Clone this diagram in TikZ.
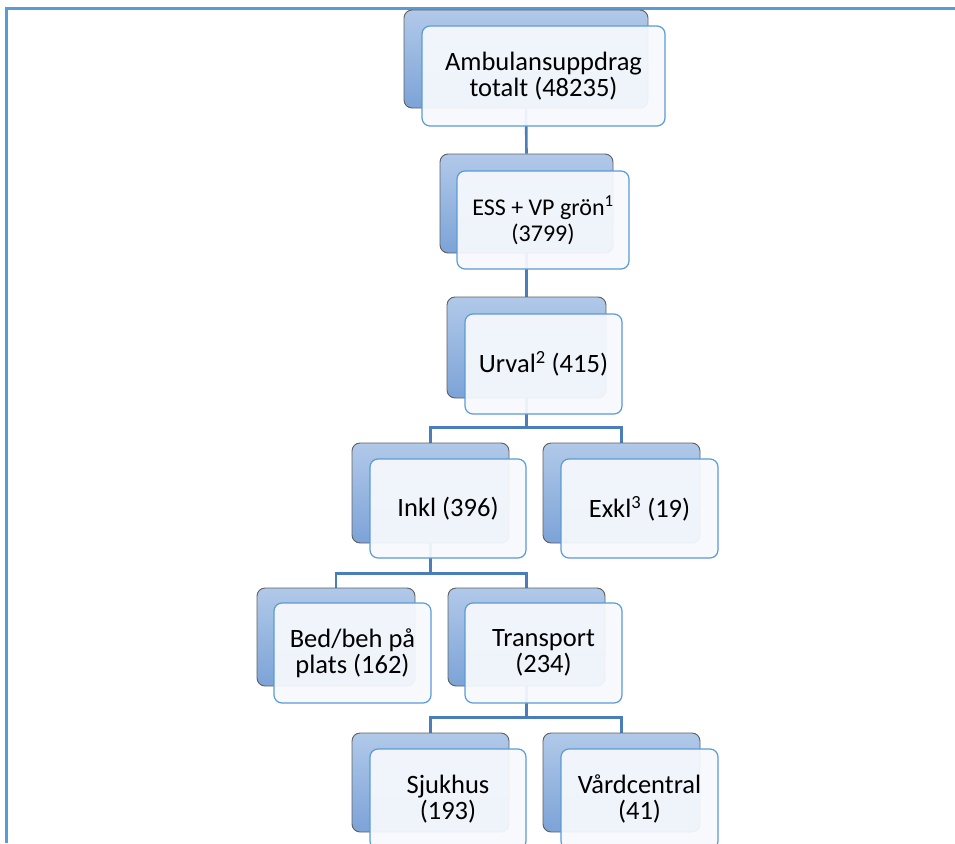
\documentclass[tikz,border=0pt]{standalone}
\usepackage{fontspec}
\setmainfont{Carlito}
\usetikzlibrary{backgrounds}
\definecolor{framec}{HTML}{5B9BD5}
\definecolor{linec}{HTML}{4A7EBB}
\definecolor{backtop}{HTML}{B1C9E9}
\definecolor{backbot}{HTML}{7CA3D7}
\definecolor{backdraw}{HTML}{5F5F5F}
\definecolor{frontfill}{HTML}{F6F9FD}
\definecolor{frontdraw}{HTML}{5B9BD5}
\begin{document}
\begin{tikzpicture}[x=1pt,y=-1pt,
 backbox/.style={rectangle, rounded corners=8pt, draw=backdraw, line width=0.9pt,
   top color=backtop, bottom color=backbot, minimum width=157pt, minimum height=99pt, inner sep=0pt},
 frontbox/.style={rectangle, rounded corners=8pt, draw=frontdraw, line width=1.2pt,
   fill=frontfill, fill opacity=0.94, text opacity=1, minimum width=157pt, minimum height=100pt,
   inner sep=0pt, align=center, font=\fontsize{26.5}{26}\selectfont},
 conn/.style={draw=linec, line width=2.6pt}]
\useasboundingbox (0,0) rectangle (955,843);
\draw[framec, line width=2.3pt] (6.5,843) -- (6.5,8.5) -- (955,8.5);

% back boxes
\node[backbox, minimum width=244pt, minimum height=98pt] (b1) at (526,59) {};
\node[backbox, minimum width=173pt] (b2) at (526.5,203.5) {};
\node[backbox, minimum width=159pt, minimum height=101pt] (b3) at (526.5,347.5) {};
\node[backbox, minimum height=100pt] (b4) at (430.5,493) {};
\node[backbox, minimum height=100pt] (b5) at (621.5,493) {};
\node[backbox, minimum width=158pt, minimum height=98pt] (b6) at (336,637) {};
\node[backbox, minimum height=98pt] (b7) at (526.5,637) {};
\node[backbox] (b8) at (430.5,782.5) {};
\node[backbox] (b9) at (621.5,782.5) {};

% connectors
\begin{pgfonlayer}{background}
\coordinate (j3) at ([yshift=-29pt]b3.south);
\coordinate (j4) at ([yshift=-30pt]b4.south);
\coordinate (j7) at ([yshift=-31pt]b7.south);
\draw[conn] (b1.south) -- (b2.north);
\draw[conn] (b2.south) -- (b3.north);
\draw[conn] (b3.south) -- (j3) -| (b4.north);
\draw[conn] (j3) -| (b5.north);
\draw[conn] (b4.south) -- (j4) -| (b6.north);
\draw[conn] (j4) -| (b7.north);
\draw[conn] (b7.south) -- (j7) -| (b8.north);
\draw[conn] (j7) -| (b9.north);
\end{pgfonlayer}

% front boxes
\node[frontbox, minimum width=243pt] (f1) at (543.5,76) {Ambulansuppdrag\\totalt (48235)};
\node[frontbox, minimum width=172pt, minimum height=98pt, font=\fontsize{24}{26}\selectfont] (f2) at (543,220) {ESS + VP grön\textsuperscript{1}\\(3799)};
\node[frontbox] (f3) at (543.5,364) {Urval\textsuperscript{2} (415)};
\node[frontbox, minimum width=156pt, minimum height=99pt] (f4) at (448,508.5) {Inkl (396)};
\node[frontbox, minimum height=99pt] (f5) at (639.5,508.5) {Exkl\textsuperscript{3} (19)};
\node[frontbox] (f6) at (352.5,653) {Bed/beh på\\plats (162)};
\node[frontbox] (f7) at (543.5,653) {Transport\\(234)};
\node[frontbox, minimum width=156pt] (f8) at (448,799) {Sjukhus\\(193)};
\node[frontbox] (f9) at (639.5,799) {Vårdcentral\\(41)};
\end{tikzpicture}
\end{document}
